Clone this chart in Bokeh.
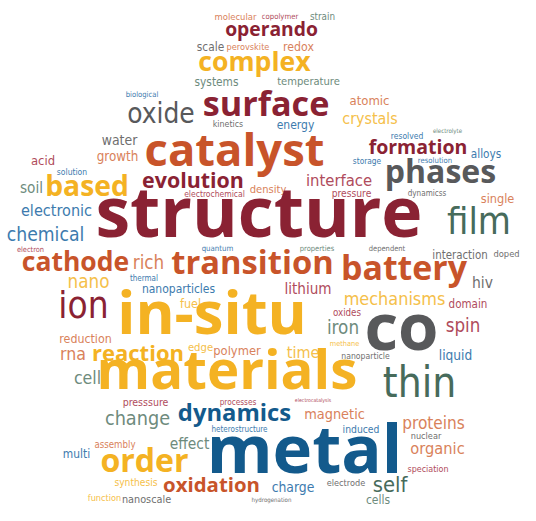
from bokeh.plotting import figure
from bokeh.models import ColumnDataSource, Range1d
from bokeh.embed import file_html
from bokeh.resources import INLINE
from bokeh.core.properties import value

# palette
MAROON = "#8A2233"; RUST = "#C8542A"; GOLD = "#F4B223"; GRAY = "#58595B"
BLUE = "#135A8C"; GREEN = "#476B5B"; SALMON = "#D9825B"; ROSE = "#B04C5C"
SKY = "#3D7BAE"; LGOLD = "#F5C04A"; SAGE = "#6E8B7D"; LGRAY = "#6F6F6F"

# ---- data: heavy (frequent) terms ----
bold_words = ["structure", "in-situ", "materials", "metal", "catalyst", "co", "surface",
              "transition", "battery", "phases", "cathode", "based", "complex", "order",
              "formation", "evolution", "reaction", "dynamics", "oxidation", "operando"]
bold_colors = [MAROON, GOLD, GOLD, BLUE, RUST, GRAY, MAROON, RUST, RUST, GRAY, RUST, GOLD,
               GOLD, GOLD, MAROON, MAROON, GOLD, BLUE, RUST, MAROON]
# cloud layout: left / right edge and vertical centre of each word
bold_x0 = [97, 118, 98, 208, 145, 364, 203, 172, 341, 385, 22, 45, 198, 100, 369, 142, 92, 178, 163, 225]
bold_x1 = [420, 305, 355, 400, 323, 438, 328, 332, 466, 495, 128, 128, 310, 188, 466, 243, 183, 290, 259, 317]
bold_y = [213, 313, 370, 450, 150, 327, 104, 263, 268, 172, 262, 186, 62, 461, 147, 180, 353, 413, 485, 29]

# ---- data: lighter terms ----
light_words = ["oxide", "film", "ion", "thin", "self", "chemical", "electronic", "nano", "rich",
               "molecular", "copolymer", "strain", "scale", "perovskite", "redox", "systems",
               "temperature", "atomic", "kinetics", "energy", "crystals", "biological", "water",
               "growth", "acid", "solution", "soil", "electron", "thermal", "nanoparticles",
               "reduction", "interface", "electrochemical", "density", "presssure", "pressure",
               "quantum", "properties", "lithium", "fuel", "oxides", "iron", "methane",
               "resolved", "electrolyte", "alloys", "storage", "resolution", "dynamicss",
               "single", "dependent", "interaction", "doped", "hiv", "mechanisms", "domain",
               "spin", "liquid", "nanoparticle", "proteins", "nuclear", "organic", "speciation",
               "cells", "electrode", "induced", "magnetic", "electrocatalysis", "processes",
               "heterostructure", "effect", "charge", "hydrogenation", "time", "polymer", "edge",
               "rna", "cell", "change", "assembly", "multi", "synthesis", "nanoscale", "function"]
light_colors = [GRAY, GREEN, MAROON, GREEN, GREEN, SKY, SKY, LGOLD, SALMON,
                SALMON, ROSE, SAGE, LGRAY, SALMON, SALMON, SAGE,
                SAGE, SALMON, LGRAY, SKY, LGOLD, SKY, LGRAY,
                SALMON, ROSE, SKY, SAGE, ROSE, SKY, SKY,
                SALMON, ROSE, ROSE, SALMON, ROSE, ROSE,
                SKY, SAGE, ROSE, LGOLD, ROSE, SAGE, LGOLD,
                SKY, SAGE, SKY, SKY, SKY, LGRAY,
                SALMON, LGRAY, LGRAY, LGRAY, LGRAY, LGOLD, ROSE,
                ROSE, SKY, LGRAY, SALMON, LGRAY, SALMON, ROSE,
                SAGE, LGRAY, SKY, SALMON, ROSE, ROSE,
                SKY, SAGE, SKY, LGRAY, LGOLD, SALMON, LGOLD,
                SALMON, SAGE, SAGE, SALMON, SKY, LGOLD, LGRAY, LGOLD]
light_cx = [160.5, 478.5, 83, 419, 389.5, 45, 56, 88, 148,
            235, 279.5, 322, 210, 247.5, 298, 216,
            308, 369, 227.5, 295, 369.5, 141.5, 119,
            117, 42.5, 71.5, 31, 30, 143.5, 178,
            85, 338.5, 214, 267.5, 145, 351,
            217, 316.5, 307.5, 190, 346.5, 342.5, 344,
            406.5, 447, 485.5, 366.5, 434.5, 426.5,
            497, 386.5, 459.5, 506, 482, 394, 467.5,
            462.5, 455, 365, 433, 425.5, 437, 427.5,
            377.5, 345.5, 360.5, 334, 312.5, 237.5,
            239, 189, 292.5, 271, 302.5, 236.5, 200,
            72.5, 87, 137, 114.5, 76, 135.5, 146, 104]
light_w = [65, 61, 48, 70, 33, 74, 68, 40, 30,
           40, 35, 24, 26, 41, 30, 42,
           60, 38, 29, 36, 53, 31, 34,
           40, 23, 29, 22, 26, 27, 70,
           50, 63, 58, 35, 44, 38,
           30, 33, 45, 20, 27, 31, 28,
           31, 28, 29, 27, 33, 37,
           32, 35, 53, 25, 20, 97, 37,
           33, 32, 46, 60, 29, 52, 39,
           23, 37, 35, 58, 35, 35,
           54, 38, 41, 38, 31, 45, 24,
           25, 26, 62, 39, 26, 41, 47, 32]
light_y = [113, 220, 305, 382, 484, 234, 210, 281, 262,
           16, 16, 16, 46, 46, 46, 81,
           81, 100, 123, 124, 118, 94, 139,
           156, 160, 171, 187, 249, 278, 288,
           338, 180, 193, 189, 401, 193,
           248, 248, 288, 303, 312, 327, 343,
           135, 130, 153, 160, 160, 192,
           198, 248, 254, 253, 282, 298, 303,
           325, 354, 355, 422, 435, 448, 468,
           499, 482, 428, 413, 399, 401,
           429, 443, 486, 499, 352, 350, 347,
           353, 377, 418, 444, 453, 482, 499, 497]

# approximate advance widths (em) used to fit each word to its slot
BOLD_ADV = dict(a=.586, b=.627, c=.514, d=.627, e=.590, f=.373, g=.561, h=.639, i=.305, j=.305,
                k=.621, l=.305, m=.958, n=.639, o=.618, p=.627, q=.627, r=.454, s=.499, t=.424,
                u=.639, v=.584, w=.862, x=.592, y=.585, z=.508)
BOLD_ADV["-"] = .322
LIGHT_ADV = {k: v * 0.9 for k, v in dict(
    a=.613, b=.635, c=.550, d=.635, e=.615, f=.352, g=.635, h=.634, i=.278, j=.278, k=.579,
    l=.278, m=.974, n=.634, o=.612, p=.635, q=.635, r=.411, s=.521, t=.392, u=.634, v=.592,
    w=.818, x=.592, y=.592, z=.525).items()}


def fit(words, widths, ys, adv, k, grow=1.0):
    sizes, mids = [], []
    for w, wid, y in zip(words, widths, ys):
        s = grow * wid / sum(adv.get(ch, .5) for ch in w)
        sizes.append(s)
        mids.append(y - k * s)
    return sizes, mids


bw = [b - a for a, b in zip(bold_x0, bold_x1)]
bcx = [(a + b) / 2 for a, b in zip(bold_x0, bold_x1)]
bsz, bmid = fit(bold_words, bw, bold_y, BOLD_ADV, 0.05)
lsz, lmid = fit(light_words, light_w, light_y, LIGHT_ADV, 0.0, 1.05)

p = figure(width=520, height=505, output_backend="svg", toolbar_location=None,
           x_range=Range1d(0, 520), y_range=Range1d(505, 0), min_border=0)
p.axis.visible = False
p.grid.visible = False
p.outline_line_color = None

bsrc = ColumnDataSource(dict(x=bcx, y=bmid, text=bold_words,
                             size=[f"{s:.1f}px" for s in bsz], color=bold_colors))
lsrc = ColumnDataSource(dict(x=light_cx, y=lmid, text=light_words,
                             size=[f"{s:.1f}px" for s in lsz], color=light_colors))

p.text(x="x", y="y", text="text", source=lsrc,
       text_font=value("DejaVu Sans Condensed, Roboto"),
       text_font_size="size", text_color="color", text_align="center",
       text_baseline="middle")
p.text(x="x", y="y", text="text", source=bsrc, text_font=value("Open Sans"),
       text_font_style="bold", text_font_size="size", text_color="color",
       text_align="center", text_baseline="middle")

open("out.html", "w").write(file_html(p, INLINE))
